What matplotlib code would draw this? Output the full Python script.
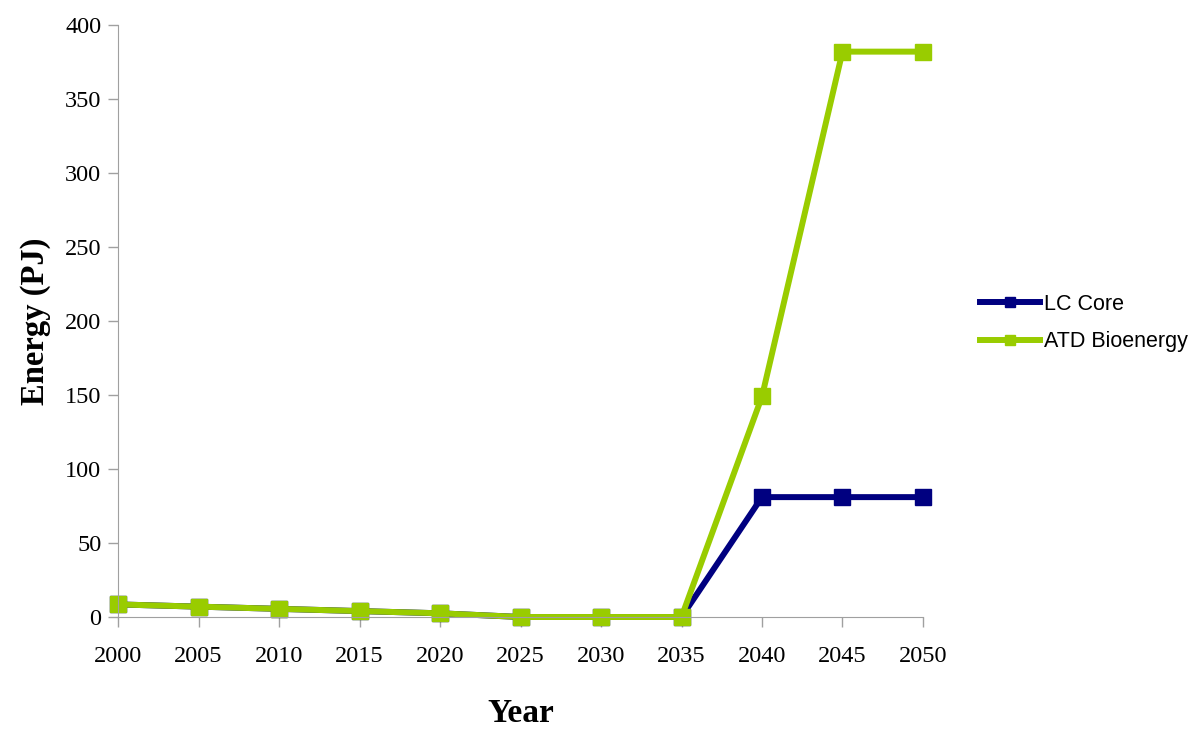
import matplotlib
matplotlib.use("Agg")
from matplotlib import pyplot as plt

years = [2000, 2005, 2010, 2015, 2020, 2025, 2030, 2035, 2040, 2045, 2050]
lc_core = [8.5, 7, 5.5, 4, 2.5, 0, 0, 0, 81, 81, 81]
atd_bio = [8.5, 7, 5.5, 4, 2.5, 0, 0, 0, 149, 382, 382]

fig = plt.figure(figsize=(12, 7.34), dpi=100)
ax = fig.add_axes([118 / 1200, 1 - 617 / 734, (923 - 118) / 1200, (617 - 25) / 734])

ax.plot(years, lc_core, color="#000080", linewidth=4.3, marker="s", markersize=11.5,
        label="LC Core", clip_on=False)
ax.plot(years, atd_bio, color="#99CC00", linewidth=4.3, marker="s", markersize=11.5,
        label="ATD Bioenergy", clip_on=False)

ax.set_xlim(2000, 2050)
ax.set_ylim(0, 400)
ax.set_xticks(years)
ax.set_yticks(range(0, 401, 50))

for side in ["top", "right"]:
    ax.spines[side].set_visible(False)
for side in ["left", "bottom"]:
    ax.spines[side].set_color("#a0a0a0")
ax.tick_params(color="#a0a0a0", length=7, width=1)
for lab in ax.get_xticklabels() + ax.get_yticklabels():
    lab.set_fontfamily("Liberation Serif")
    lab.set_fontsize(17.5)
ax.tick_params(axis="x", pad=14)
ax.tick_params(axis="y", pad=5)

ax.set_xlabel("Year", fontfamily="Liberation Serif", fontsize=24, fontweight="bold", labelpad=22)
ax.set_ylabel("Energy (PJ)", fontfamily="Liberation Serif", fontsize=23.5, fontweight="bold", labelpad=10)

ax.legend(loc="center left", bbox_to_anchor=(980 / 1200, 1 - 323 / 734),
          bbox_transform=fig.transFigure, frameon=False, borderpad=0, borderaxespad=0,
          prop={"family": "Liberation Sans", "size": 15.5}, handlelength=2.8,
          labelspacing=0.75, handletextpad=0.15, markerscale=0.6)

plt.savefig("out.png", dpi=100)
